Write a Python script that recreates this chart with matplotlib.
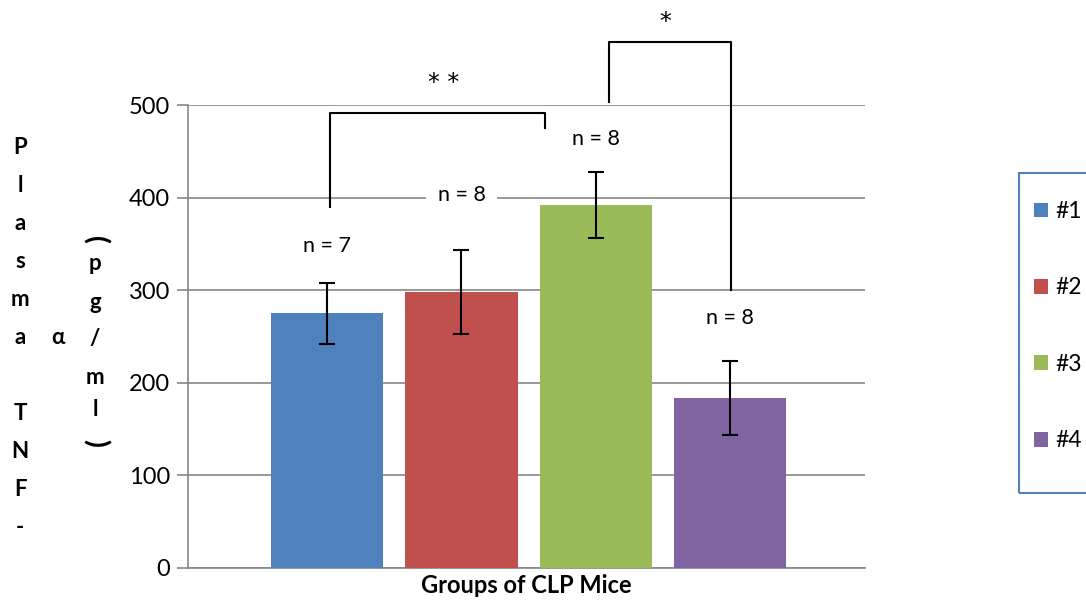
import matplotlib.pyplot as plt
from matplotlib.patches import Rectangle
import numpy as np

plt.rcParams['font.family'] = ['Lato', 'DejaVu Sans']

# Data
groups = ['#1', '#2', '#3', '#4']
tnf_mean = [275, 298, 392, 184]
tnf_err = [33, 45, 36, 40]
n_labels = ['n = 7', 'n = 8', 'n = 8', 'n = 8']
n_label_y = [348, 403, 463, 270]
colors = ['#4F81BD', '#C0504D', '#9BBB59', '#8064A2']
yticks = [0, 100, 200, 300, 400, 500]

W, H = 1086, 603
fig = plt.figure(figsize=(W / 100, H / 100), dpi=100)
ax = fig.add_axes([188 / W, 35 / H, (865 - 188) / W, (568 - 105) / H])

x = np.arange(len(groups))
bars = ax.bar(x, tnf_mean, width=0.836, color=colors, zorder=3, label=groups)
ax.errorbar(x, tnf_mean, yerr=tnf_err, fmt='none', ecolor='black',
            elinewidth=1.5, capsize=6, capthick=1.5, zorder=4)

ax.set_xlim(-1.04, 4.01)
ax.set_ylim(0, 500)
ax.set_yticks(yticks)
ax.tick_params(axis='y', labelsize=17, length=8, width=1.2, color='#868686', pad=5)
ax.set_xticks([])
ax.grid(axis='y', color='#868686', lw=1.2, zorder=0)
for s in ['top', 'right']:
    ax.spines[s].set_visible(False)
for s in ['left', 'bottom']:
    ax.spines[s].set_color('#868686')
    ax.spines[s].set_linewidth(1.2)
ax.set_xlabel('Groups of CLP Mice', fontsize=17, fontweight='bold', labelpad=4)

# n labels, white box hides gridline underneath
for xi, lab, ly in zip(x, n_labels, n_label_y):
    ax.text(xi, ly, lab, ha='center', va='center', fontsize=15.5, zorder=5,
            bbox=dict(facecolor='white', edgecolor='none', pad=8 if ly in (403, 270) else 2))

# significance brackets
bk = dict(color='black', lw=1.5, clip_on=False, zorder=6)
ax.plot([0.0226, 0.0226, 1.62, 1.62], [390, 491, 491, 475], **bk)
ax.text(0.87, 524, '* *', ha='center', va='center', fontsize=17,
        family='DejaVu Sans', clip_on=False)
ax.plot([2.1, 2.1, 3.01, 3.01], [503, 568, 568, 300], **bk)
ax.text(2.52, 590, '*', ha='center', va='center', fontsize=17,
        family='DejaVu Sans', clip_on=False)

# stacked y-axis label
col1 = ['P', 'l', 'a', 's', 'm', 'a', '', 'T', 'N', 'F', '-']
for i, ch in enumerate(col1):
    fig.text(20 / W, 1 - (147 + 38.1 * i) / H, ch, ha='center', va='center',
             fontsize=16, fontweight='bold')
fig.text(58 / W, 1 - 338 / H, 'α', ha='center', va='center', fontsize=16, fontweight='bold')
col3 = ['(', 'p', 'g', '/', 'm', 'l', ')']
col3_y = [240, 264, 302, 338, 378, 410, 443]
for ch, cy in zip(col3, col3_y):
    paren = ch in '()'
    fig.text(95 / W, 1 - cy / H, ch, ha='center', va='center',
             fontsize=21 if paren else 16, fontweight='bold',
             rotation=-90 if paren else 0)

# legend with its frame running off the right edge
fig.add_artist(Rectangle((1019 / W, 1 - 493 / H), 100 / W, 320 / H, transform=fig.transFigure,
                         facecolor='none', edgecolor='#4F81BD', lw=1.5))
fig.legend(handles=bars, labels=groups, loc='upper left',
           bbox_to_anchor=(1034 / W, 1 - 201 / H), fontsize=16.5,
           frameon=False, handlelength=0.62, handleheight=0.62,
           labelspacing=2.42, borderpad=0, handletextpad=0.3, borderaxespad=0)

fig.savefig('out.png', dpi=100)
